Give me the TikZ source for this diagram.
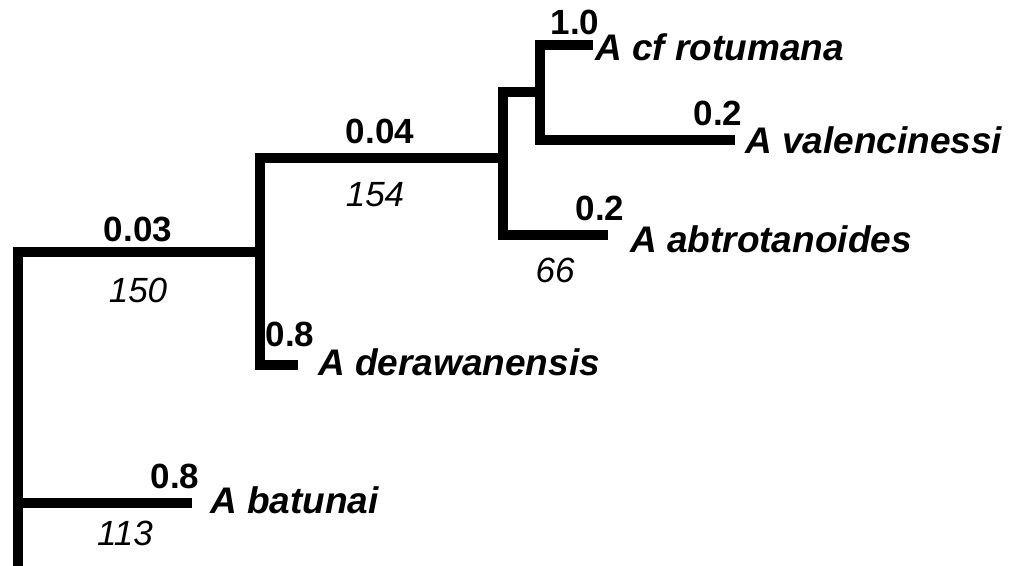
\documentclass[tikz,border=0pt]{standalone}
\usepackage{fontspec}
\setmainfont{Liberation Sans}
\begin{document}
\begin{tikzpicture}[x=1pt,y=-1pt,
  br/.style={line width=10pt,line cap=butt,line join=miter},
  sup/.style={font=\fontsize{35}{36}\selectfont\bfseries,inner sep=0pt},
  tax/.style={font=\fontsize{37}{38}\selectfont\bfseries\itshape,inner sep=0pt,anchor=west},
  cnt/.style={font=\fontsize{35}{36}\selectfont\itshape,inner sep=0pt}]
\useasboundingbox (0,0) rectangle (1024,565);
\coordinate (r0) at (18,570);
\coordinate (r1) at (18,252);
\coordinate (r2) at (18,503);
\coordinate (bt) at (192,503);
\coordinate (n1t) at (260,252);
\coordinate (n1a) at (260,158);
\coordinate (n1b) at (260,365);
\coordinate (dw) at (298,365);
\coordinate (n2) at (503,158);
\coordinate (n2a) at (503,92);
\coordinate (n2b) at (503,235);
\coordinate (ab) at (608,235);
\coordinate (n3) at (540,92);
\coordinate (n3a) at (540,45);
\coordinate (n3b) at (540,140);
\coordinate (cf) at (593,45);
\coordinate (va) at (735,140);
\draw[br] (r0) -- (r1) -- (n1t);
\draw[br] (r2) -- (bt);
\draw[br] (n1t) -- (n1a) -- (n2);
\draw[br] (n1t) -- (n1b) -- (dw);
\draw[br] (n2) -- (n2a) -- (n3);
\draw[br] (n2) -- (n2b) -- (ab);
\draw[br] (n3) -- (n3a) -- (cf);
\draw[br] (n3) -- (n3b) -- (va);
\node[sup] (s1) at (575,22) {1.0};
\node[tax] (t1) at (595,47) {A cf rotumana};
\node[sup] (s2) at (718,113) {0.2};
\node[tax] (t2) at (745,140) {A valencinessi};
\node[sup] (s3) at (380,131) {0.04};
\node[cnt] (c3) at (375,195) {154};
\node[sup] (s4) at (600,208) {0.2};
\node[tax] (t4) at (630,239) {A abtrotanoides};
\node[cnt] (c4) at (555,270) {66};
\node[sup] (s5) at (138,229) {0.03};
\node[cnt] (c5) at (138,290) {150};
\node[sup] (s6) at (290,334) {0.8};
\node[tax] (t6) at (318,362) {A derawanensis};
\node[sup] (s7) at (175,476) {0.8};
\node[tax] (t7) at (210,500) {A batunai};
\node[cnt] (c7) at (125,533) {113};
\end{tikzpicture}
\end{document}
